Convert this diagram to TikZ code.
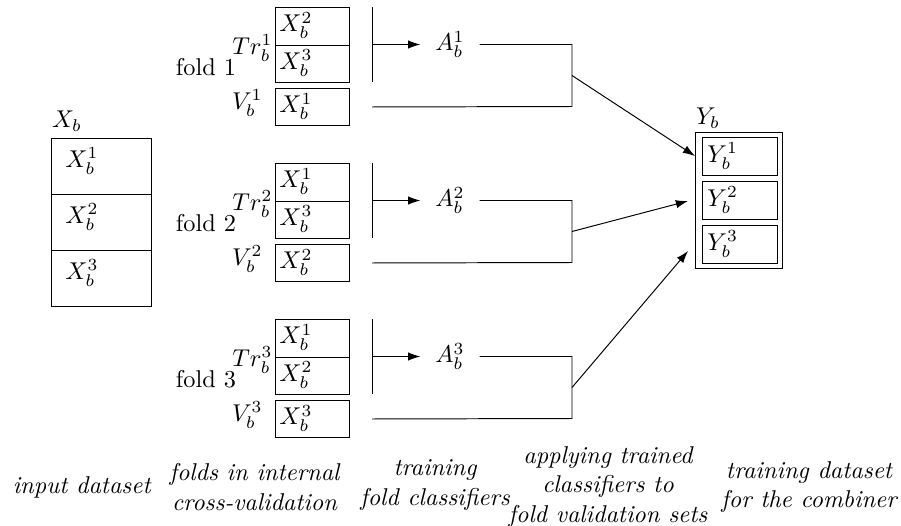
\documentclass[tikz,border=0pt]{standalone}
\usetikzlibrary{arrows.meta}
\begin{document}
\begin{tikzpicture}[x=0.41152pt,y=-0.41152pt,
  xcell/.style={draw, inner sep=0, minimum width=41.15pt, minimum height=23.13pt, anchor=north west},
  fcell/.style={draw, inner sep=0, minimum width=30.45pt, minimum height=15.43pt, anchor=north west},
  ycell/.style={draw, inner sep=0, minimum width=30.86pt, minimum height=15.64pt, anchor=north west},
  ybox/.style={draw, inner sep=0, minimum width=35.8pt, minimum height=55.97pt, anchor=north west},
  lab/.style={inner sep=0},
  capt/.style={align=center, font=\itshape, inner sep=0},
  arr/.style={-{Latex[length=5pt,width=3.4pt]}}]
\useasboundingbox (0,0) rectangle (901,525);

% input dataset
\node[xcell] (xb1) at (51,137.7) {};
\node[xcell] (xb2) at (51,193.9) {};
\node[xcell] (xb3) at (51,250.1) {};
\node[lab, anchor=north west] (xb1t) at (65,147) {$X_b^1$};
\node[lab, anchor=north west] (xb2t) at (65,203) {$X_b^2$};
\node[lab, anchor=north west] (xb3t) at (65,259) {$X_b^3$};
\node[lab] (xblab) at (67,121) {$X_b$};

% combiner training set
\node[ybox] (yb) at (695,132) {};
\node[ycell] (y1) at (702,137) {};
\node[ycell] (y2) at (702,181) {};
\node[ycell] (y3) at (702,225) {};
\node[lab, anchor=west] (y1t) at (707,156) {$Y_b^1$};
\node[lab, anchor=west] (y2t) at (707,200) {$Y_b^2$};
\node[lab, anchor=west] (y3t) at (707,244) {$Y_b^3$};
\node[lab] (yblab) at (708,118) {$Y_b$};
\coordinate (t1) at (695,156);
\coordinate (t2) at (688,201);
\coordinate (t3) at (688,251);

% folds
\foreach \k/\a/\b/\dy in {1/2/3/0, 2/1/3/156, 3/1/2/312}{
  \begin{scope}[shift={(0,\dy)}]
    \node[fcell] (tra\k) at (275,7) {};
    \node[fcell] (trb\k) at (275,44.5) {};
    \node[fcell] (v\k) at (275,87.75) {};
    \node[lab, anchor=west] (traT\k) at (279,25.5) {$X_b^{\a}$};
    \node[lab, anchor=west] (trbT\k) at (279,63) {$X_b^{\b}$};
    \node[lab, anchor=west] (vT\k) at (279,106.5) {$X_b^{\k}$};
    \node[lab, anchor=east] (trl\k) at (273,48) {$Tr_b^{\k}$};
    \node[lab, anchor=east] (vl\k) at (263,103) {$V_b^{\k}$};
    \node[lab] (fold\k) at (206,67) {fold \k};
    \coordinate (bt\k) at (372,7);
    \coordinate (bb\k) at (372,82);
    \draw (bt\k) -- (bb\k);
    \node[inner xsep=6pt, inner ysep=0] (a\k) at (450,44.5) {$A_b^{\k}$};
    \draw[arr] (bt\k |- trb\k.north) -- (a\k.west);
    \coordinate (c\k) at (572,44.5);
    \coordinate (d\k) at (572,106.5);
    \coordinate (m\k) at (572,75.5);
    \draw (a\k.east) -- (c\k) -- (d\k) -- (bt\k |- v\k);
  \end{scope}
  \draw[arr] (m\k) -- (t\k);
}

% captions
\node[capt] (c1) at (81.7,487) {input dataset};
\node[capt] (c2) at (254.5,487) {folds in internal\\cross-validation};
\node[capt] (c3) at (435,485) {training\\fold classifiers};
\node[capt] (c4) at (608,487) {applying trained\\classifiers to\\fold validation sets};
\node[capt] (c5) at (809,487) {training dataset\\for the combiner};
\end{tikzpicture}
\end{document}
